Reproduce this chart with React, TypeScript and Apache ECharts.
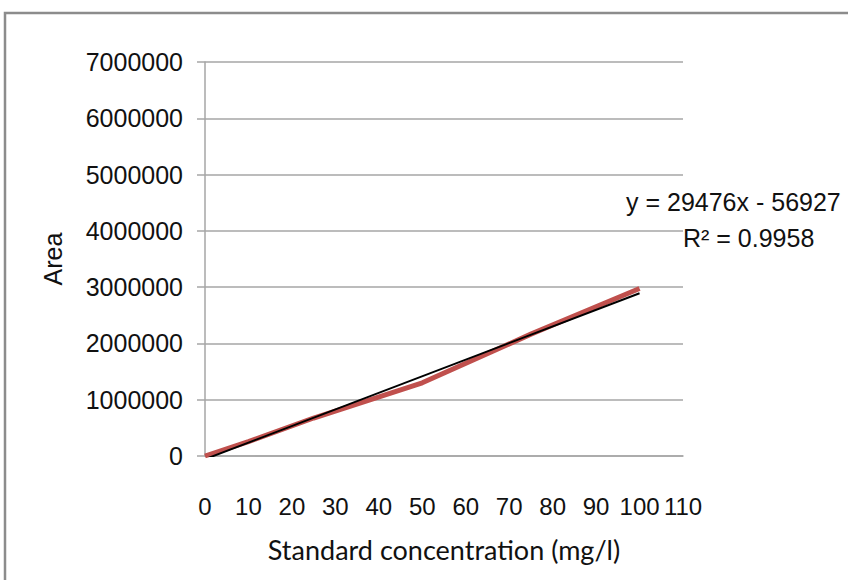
import React, { useEffect, useRef } from "react";
import * as echarts from "echarts";

// Data
const concentrations = [0, 10, 25, 50, 75, 100];
const areas = [0, 255000, 675000, 1300000, 2165000, 2975000];

// Linear trendline shown in the chart
const trendSlope = 29476;
const trendIntercept = -56927;
const trendRange = [0, 100];

const yTicks = [0, 1000000, 2000000, 3000000, 4000000, 5000000, 6000000, 7000000];
const xTicks = [0, 10, 20, 30, 40, 50, 60, 70, 80, 90, 100, 110];

const equationText = "y = 29476x - 56927";
const r2Text = "R\u00b2 = 0.9958";
const xTitle = "Standard concentration (mg/l)";
const yTitle = "Area";

const SANS = "'Liberation Sans', Arial, sans-serif";

export default function App() {
  const ref = useRef<HTMLDivElement>(null);

  useEffect(() => {
    if (!ref.current) return;
    const chart = echarts.init(ref.current, undefined, { renderer: "svg" });
    const seriesData = concentrations.map((c, i) => [c, areas[i]]);
    const trendData = trendRange.map((x) => [x, trendSlope * x + trendIntercept]);

    chart.setOption({
      animation: false,
      backgroundColor: "#ffffff",
      grid: { left: 205, top: 62, right: 165, bottom: 124, containLabel: false },
      xAxis: {
        type: "value",
        min: xTicks[0],
        max: xTicks[xTicks.length - 1],
        interval: 10,
        name: xTitle,
        nameLocation: "middle",
        nameGap: 80,
        nameTextStyle: { fontFamily: "Lato, 'Open Sans', sans-serif", fontSize: 27, color: "#111" },
        axisLine: { show: true, lineStyle: { color: "#a6a6a6", width: 1.5 } },
        axisTick: { show: false },
        axisLabel: {
          fontFamily: SANS,
          fontSize: 24,
          color: "#111",
          margin: 38,
          showMaxLabel: true,
          showMinLabel: true,
          hideOverlap: false,
          formatter: (v: number) => String(v),
        },
        splitLine: { show: false },
      },
      yAxis: {
        type: "value",
        min: yTicks[0],
        max: yTicks[yTicks.length - 1],
        interval: 1000000,
        name: yTitle,
        nameLocation: "middle",
        nameRotate: 90,
        nameGap: 140,
        nameTextStyle: { fontFamily: SANS, fontSize: 25, color: "#111" },
        axisLine: { show: true, lineStyle: { color: "#a6a6a6", width: 1.5 } },
        axisTick: { show: true, inside: false, length: 8, lineStyle: { color: "#a6a6a6", width: 1.5 } },
        axisLabel: {
          fontFamily: SANS,
          fontSize: 25,
          color: "#111",
          margin: 22,
          formatter: (v: number) => String(v),
        },
        splitLine: { show: true, lineStyle: { color: "#a6a6a6", width: 1.5 } },
      },
      series: [
        {
          type: "line",
          data: seriesData,
          showSymbol: false,
          symbol: "none",
          lineStyle: { color: "#c0504d", width: 5 },
          z: 2,
        },
        {
          type: "line",
          data: trendData,
          showSymbol: false,
          symbol: "none",
          clip: true,
          lineStyle: { color: "#000000", width: 2 },
          z: 3,
        },
      ],
      graphic: [
        {
          type: "rect",
          shape: { x: 5, y: 13, width: 860, height: 600 },
          style: { fill: "none", stroke: "#8c8c8c", lineWidth: 2.5 },
          z: -10,
          silent: true,
        },
        {
          type: "text",
          x: 626,
          y: 202,
          style: { text: equationText, font: `25px ${SANS}`, fill: "#111", textVerticalAlign: "middle" },
        },
        {
          type: "text",
          x: 683,
          y: 238,
          style: { text: r2Text, font: `25px ${SANS}`, fill: "#111", textVerticalAlign: "middle" },
        },
      ],
    });
    return () => chart.dispose();
  }, []);

  return <div ref={ref} style={{ position: "fixed", left: 0, top: 0, width: 848, height: 580 }} />;
}
